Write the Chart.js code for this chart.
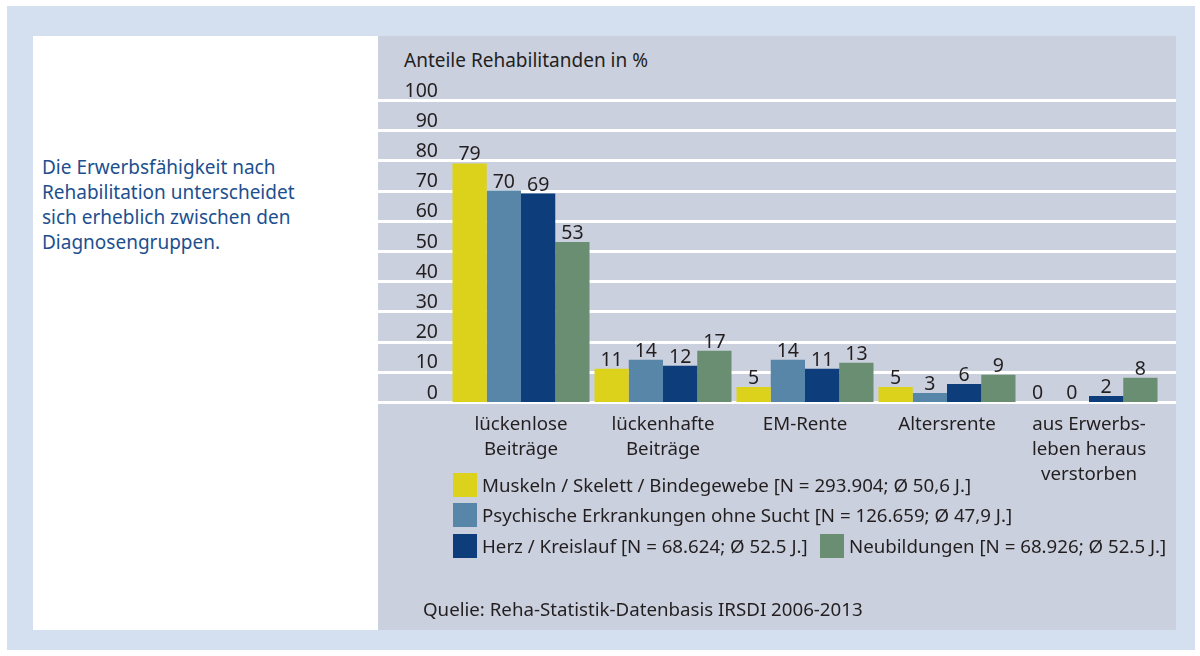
<!DOCTYPE html>
<html>
<head>
<meta charset="utf-8">
<script src="https://cdn.jsdelivr.net/npm/chart.js@4"></script>
<style>
  body { margin: 0; background: #fff; font-family: "Noto Sans", sans-serif; color: #231f20; }
  #frame { position: absolute; left: 7px; top: 6px; width: 1188px; height: 644px; background: #d4dff0; }
  #white { position: absolute; left: 33px; top: 36px; width: 345px; height: 594px; background: #fff; }
  #grey { position: absolute; left: 378px; top: 36px; width: 798px; height: 594px; background: #cbd0de; }
  #intro { position: absolute; left: 42px; top: 155px; font-size: 19px; line-height: 25px; color: #1d4f8f; }
  #title { position: absolute; left: 404px; top: 47px; font-size: 19px; }
  #cv { position: absolute; left: 378px; top: 36px; }
  .leg { position: absolute; font-size: 18.7px; line-height: 24px; white-space: nowrap; }
  .leg i { display: inline-block; width: 24px; height: 24px; vertical-align: top; margin-right: 5px; }
  #source { position: absolute; left: 423px; top: 596px; font-size: 18.7px; }
</style>
</head>
<body>
<div id="frame"></div>
<div id="white"></div>
<div id="grey"></div>
<div id="intro">Die Erwerbsfähigkeit nach<br>Rehabilitation unterscheidet<br>sich erheblich zwischen den<br>Diagnosengruppen.</div>
<div id="title">Anteile Rehabilitanden in %</div>
<canvas id="cv" width="798" height="594"></canvas>
<div id="legend"></div>
<div id="source">Quelie: Reha-Statistik-Datenbasis IRSDI 2006-2013</div>
<script>
// categories (multi-line labels)
var categories = [
  ["lückenlose", "Beiträge"],
  ["lückenhafte", "Beiträge"],
  ["EM-Rente"],
  ["Altersrente"],
  ["aus Erwerbs-", "leben heraus", "verstorben"]
];

// series
var seriesNames = [
  "Muskeln / Skelett / Bindegewebe [N = 293.904; Ø 50,6 J.]",
  "Psychische Erkrankungen ohne Sucht [N = 126.659; Ø 47,9 J.]",
  "Herz / Kreislauf [N = 68.624; Ø 52.5 J.]",
  "Neubildungen [N = 68.926; Ø 52.5 J.]"
];
var muskeln = [79, 11, 5, 5, 0];
var psychisch = [70, 14, 14, 3, 0];
var herz = [69, 12, 11, 6, 2];
var neubildungen = [53, 17, 13, 9, 8];
var colors = ["#dcd21b", "#5886a8", "#0d3e7b", "#698e71"];

var yTicks = [0, 10, 20, 30, 40, 50, 60, 70, 80, 90, 100];

// legend (html, laid out like the original: 3 rows)
var legendPos = [[453, 473], [453, 503], [453, 534], [820, 534]];
var legend = document.getElementById("legend");
seriesNames.forEach(function (name, i) {
  var d = document.createElement("div");
  d.className = "leg";
  d.style.left = legendPos[i][0] + "px";
  d.style.top = legendPos[i][1] + "px";
  d.innerHTML = '<i style="background:' + colors[i] + '"></i>' + name;
  legend.appendChild(d);
});

// white grid lines across the whole grey panel
var gridPlugin = {
  id: "fullGrid",
  beforeDatasetsDraw: function (chart) {
    var ctx = chart.ctx, y = chart.scales.y;
    ctx.save();
    ctx.strokeStyle = "#ffffff";
    ctx.lineWidth = 3;
    yTicks.forEach(function (v) {
      var py = Math.round(y.getPixelForValue(v)) + 0.5;
      ctx.beginPath();
      ctx.moveTo(0, py);
      ctx.lineTo(chart.width, py);
      ctx.stroke();
    });
    ctx.restore();
  }
};

// value labels above bars
var valuePlugin = {
  id: "values",
  afterDatasetsDraw: function (chart) {
    var ctx = chart.ctx;
    ctx.save();
    ctx.font = "19.5px 'Noto Sans'";
    ctx.fillStyle = "#231f20";
    ctx.textAlign = "center";
    ctx.textBaseline = "alphabetic";
    chart.data.datasets.forEach(function (ds, i) {
      chart.getDatasetMeta(i).data.forEach(function (bar, j) {
        ctx.fillText(ds.data[j], bar.x, bar.y - 3);
      });
    });
    ctx.restore();
  }
};

var data = {
  labels: categories,
  datasets: [
    { label: seriesNames[0], data: muskeln, backgroundColor: colors[0] },
    { label: seriesNames[1], data: psychisch, backgroundColor: colors[1] },
    { label: seriesNames[2], data: herz, backgroundColor: colors[2] },
    { label: seriesNames[3], data: neubildungen, backgroundColor: colors[3] }
  ]
};

var options = {
  responsive: false,
  animation: false,
  layout: { padding: { top: 64, right: 16, left: 0, bottom: 0 } },
  datasets: { bar: { categoryPercentage: 0.965, barPercentage: 1.0 } },
  plugins: { legend: { display: false }, tooltip: { enabled: false } },
  scales: {
    x: {
      grid: { display: false },
      border: { display: false },
      ticks: {
        color: "#231f20",
        font: { family: "Noto Sans", size: 18.7, lineHeight: "25px" },
        padding: 2,
        maxRotation: 0,
        autoSkip: false
      },
      afterFit: function (s) { s.height = 228; }
    },
    y: {
      min: 0,
      max: 100,
      grid: { display: false },
      border: { display: false },
      ticks: {
        stepSize: 10,
        color: "#231f20",
        font: { family: "Noto Sans", size: 19.5 },
        padding: 4,
        labelOffset: -9
      },
      afterFit: function (s) { s.width = 72; }
    }
  }
};

new Chart(document.getElementById("cv"), {
  type: "bar",
  data: data,
  options: options,
  plugins: [gridPlugin, valuePlugin]
});
</script>
</body>
</html>
